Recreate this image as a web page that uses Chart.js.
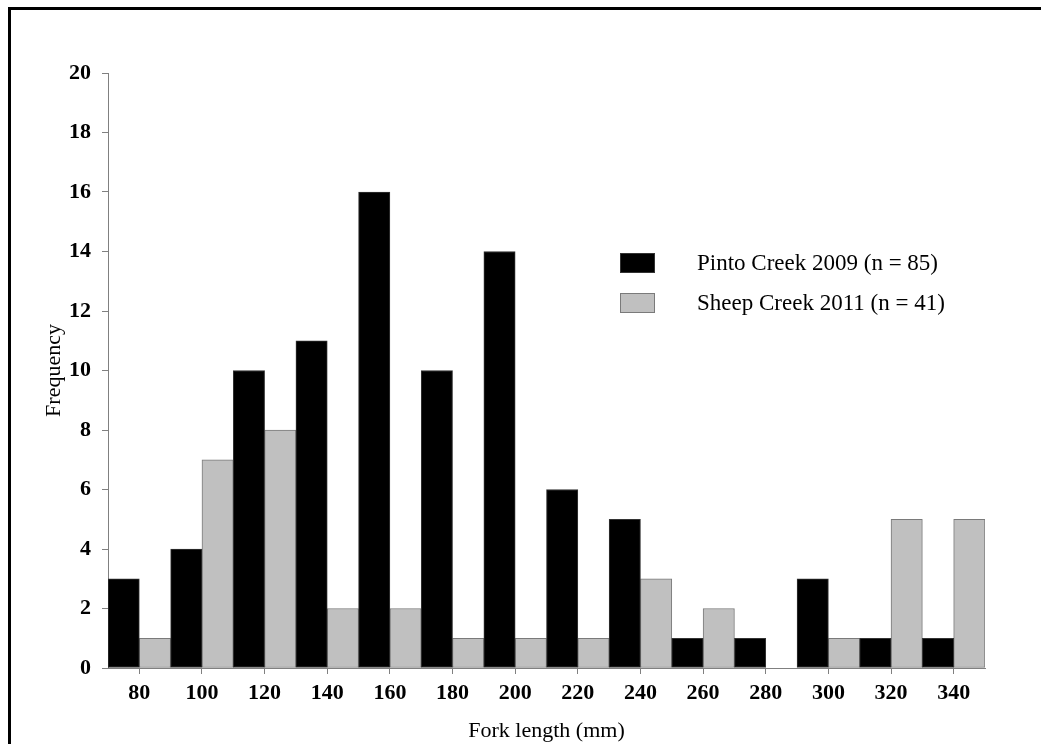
<!DOCTYPE html>
<html>
<head>
<meta charset="utf-8">
<script src="https://cdn.jsdelivr.net/npm/chart.js@4/dist/chart.umd.min.js"></script>
<style>
    html, body { margin: 0; padding: 0; background: #fff; }
    #wrap { position: relative; width: 1041px; height: 744px; overflow: hidden; }
    #frame { position: absolute; left: 8px; top: 7px; width: 1100px; height: 800px; border-top: 3px solid #000; border-left: 3px solid #000; }
    #chart { position: absolute; left: 0; top: 0; }
</style>
</head>
<body>
<div id="wrap">
    <div id="frame"></div>
    <canvas id="chart" width="1041" height="744"></canvas>
</div>
<script>
// Fork length bins (mm)
const lengthBins = ['80', '100', '120', '140', '160', '180', '200', '220', '240', '260', '280', '300', '320', '340'];

// Frequencies
const pintoCreek2009 = [3, 4, 10, 11, 16, 10, 14, 6, 5, 1, 1, 3, 1, 1];
const sheepCreek2011 = [1, 7, 8, 2, 2, 1, 1, 1, 3, 2, 0, 1, 5, 5];

const seriesLabels = ['Pinto Creek 2009 (n = 85)', 'Sheep Creek 2011 (n = 41)'];
const yTickStep = 2;
const yMax = 20;

const serif = '"Liberation Serif", "Times New Roman", serif';
const axisGray = '#808080';

// Legend drawn inside the plot area, as in the original figure
const insideLegend = {
    id: 'insideLegend',
    afterDraw(chart) {
        const ctx = chart.ctx;
        const area = chart.chartArea;
        ctx.save();
        chart.data.datasets.forEach((ds, i) => {
            const x = area.left + 512;
            const y = area.top + 180 + i * 40;
            ctx.fillStyle = ds.backgroundColor;
            ctx.fillRect(x, y, 35, 20);
            ctx.strokeStyle = ds.borderColor;
            ctx.lineWidth = 1;
            ctx.strokeRect(x + 0.5, y + 0.5, 34, 19);
            ctx.fillStyle = '#000';
            ctx.font = '23px ' + serif;
            ctx.textBaseline = 'middle';
            ctx.textAlign = 'left';
            ctx.fillText(ds.label, x + 77, y + 11);
        });
        ctx.restore();
    }
};

function createHistogram() {
    const ctx = document.getElementById('chart').getContext('2d');

    new Chart(ctx, {
        type: 'bar',
        data: {
            labels: lengthBins,
            datasets: [{
                label: seriesLabels[0],
                data: pintoCreek2009,
                backgroundColor: '#000000',
                borderColor: '#333333',
                borderWidth: 1,
                borderSkipped: false
            },
            {
                label: seriesLabels[1],
                data: sheepCreek2011,
                backgroundColor: '#c0c0c0',
                borderColor: '#7a7a7a',
                borderWidth: 1,
                borderSkipped: false
            }]
        },
        options: {
            responsive: false,
            animation: false,
            categoryPercentage: 1,
            barPercentage: 1,
            layout: {
                padding: { top: 73, right: 56, bottom: 0, left: 0 }
            },
            plugins: {
                legend: { display: false },
                tooltip: { enabled: false }
            },
            scales: {
                x: {
                    grid: {
                        offset: false,
                        drawOnChartArea: false,
                        drawTicks: true,
                        tickLength: 6,
                        color: axisGray
                    },
                    border: { color: axisGray },
                    ticks: {
                        color: '#000',
                        padding: 6,
                        maxRotation: 0,
                        font: { family: serif, size: 22, weight: 'bold' }
                    },
                    title: {
                        display: true,
                        text: 'Fork length (mm)',
                        color: '#000',
                        font: { family: serif, size: 22 },
                        padding: { top: 0, bottom: 0 }
                    },
                    afterFit(scale) { scale.height = 76; }
                },
                y: {
                    min: 0,
                    max: yMax,
                    grid: {
                        drawOnChartArea: false,
                        drawTicks: true,
                        tickLength: 6,
                        color: axisGray
                    },
                    border: { color: axisGray },
                    ticks: {
                        stepSize: yTickStep,
                        color: '#000',
                        padding: 11,
                        font: { family: serif, size: 22, weight: 'bold' }
                    },
                    title: {
                        display: true,
                        text: 'Frequency',
                        color: '#000',
                        font: { family: serif, size: 22 },
                        padding: { top: 41, bottom: 0 }
                    },
                    afterFit(scale) { scale.width = 108; }
                }
            }
        },
        plugins: [insideLegend]
    });
}

createHistogram();
</script>
</body>
</html>
